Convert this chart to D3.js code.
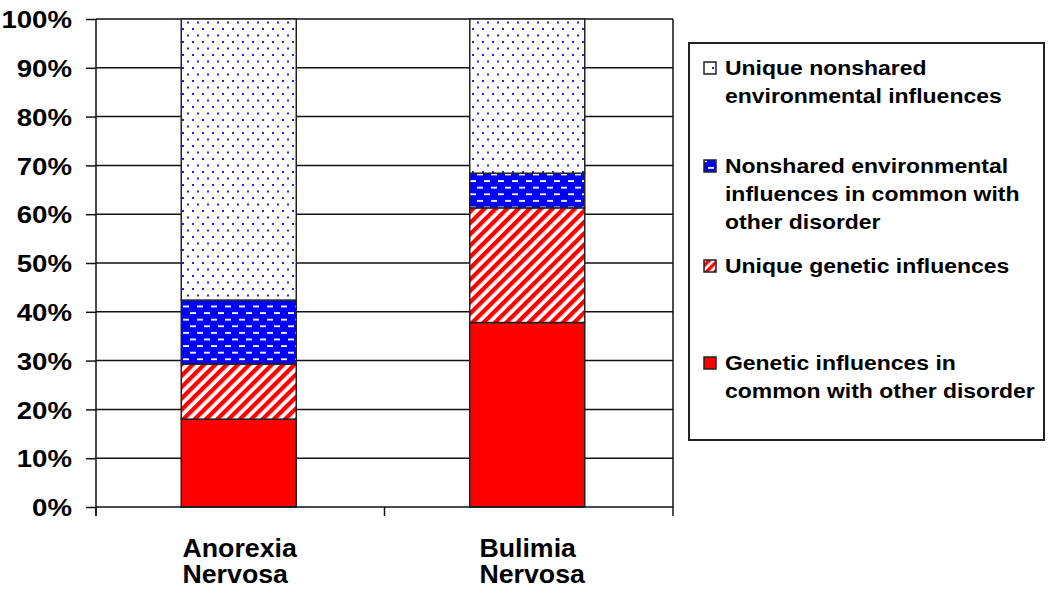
<!DOCTYPE html>
<html><head><meta charset="utf-8">
<script src="https://cdn.jsdelivr.net/npm/d3@7"></script>
<style>body{margin:0;background:#fff}svg{display:block}text{font-family:"Liberation Sans",Arial,sans-serif;font-weight:bold;fill:#000}</style>
</head><body><svg id="c" width="1050" height="590"></svg>
<script>
(function(){
const categories = [["Anorexia","Nervosa"],["Bulimia","Nervosa"]];
const seriesNames = ["Genetic influences in common with other disorder","Unique genetic influences","Nonshared environmental influences in common with other disorder","Unique nonshared environmental influences"];
const geneticCommon = [18, 37.8];
const uniqueGenetic = [11.3, 23.5];
const nonsharedCommon = [13.1, 7.1];
const uniqueNonshared = [57.6, 31.6];
const yTicks = [0,10,20,30,40,50,60,70,80,90,100];
const legendLines = [
  ["Unique nonshared","environmental influences"],
  ["Nonshared environmental","influences in common with","other disorder"],
  ["Unique genetic influences"],
  ["Genetic influences in","common with other disorder"]
];

const svg = d3.select("#c");
svg.append("rect").attr("width",1050).attr("height",590).attr("fill","#fff");
const defs = svg.append("defs");
const pDots = defs.append("pattern").attr("id","pDots").attr("patternUnits","userSpaceOnUse").attr("width",10).attr("height",13);
pDots.append("rect").attr("width",10).attr("height",13).attr("fill","#fff");
pDots.append("rect").attr("x",2).attr("y",2).attr("width",2).attr("height",2).attr("fill","#2222ff");
pDots.append("rect").attr("x",7).attr("y",8.5).attr("width",2).attr("height",2).attr("fill","#2222ff");
const pDash = defs.append("pattern").attr("id","pDash").attr("patternUnits","userSpaceOnUse").attr("width",14).attr("height",13.2);
pDash.append("rect").attr("width",14).attr("height",13.2).attr("fill","#0000ff");
pDash.append("rect").attr("x",1).attr("y",2).attr("width",6).attr("height",1.8).attr("fill","#fff");
pDash.append("rect").attr("x",8).attr("y",8.6).attr("width",6).attr("height",1.8).attr("fill","#fff");
const pDiag = defs.append("pattern").attr("id","pDiag").attr("patternUnits","userSpaceOnUse").attr("width",8).attr("height",8).attr("patternTransform","rotate(45)");
pDiag.append("rect").attr("width",8).attr("height",8).attr("fill","#fff");
pDiag.append("rect").attr("width",4.3).attr("height",8).attr("fill","#ff0000");
const pDiagS = defs.append("pattern").attr("id","pDiagS").attr("patternUnits","userSpaceOnUse").attr("width",6).attr("height",6).attr("patternTransform","rotate(45)");
pDiagS.append("rect").attr("width",6).attr("height",6).attr("fill","#fff");
pDiagS.append("rect").attr("width",3.4).attr("height",6).attr("fill","#ff0000");

const fills = ["#ff0000","url(#pDiag)","url(#pDash)","url(#pDots)"];
const legendFills = ["#ff0000","url(#pDiagS)","url(#pDash)","url(#pDots)"];

const L=96, R=673, T=19, B=507;
const x = d3.scaleBand().domain(categories.map((d,i)=>i)).range([L,R]).paddingInner(0).paddingOuter(0);
const y = d3.scaleLinear().domain([0,100]).range([B,T]);

svg.append("g").selectAll("line").data(yTicks.filter(t=>t>0)).join("line")
  .attr("x1",L).attr("x2",R).attr("y1",d=>y(d)).attr("y2",d=>y(d))
  .attr("stroke","#111").attr("stroke-width",1.5);
svg.append("line").attr("x1",R).attr("x2",R).attr("y1",T).attr("y2",B).attr("stroke","#111").attr("stroke-width",1.5);

const rows = categories.map((c,i)=>[geneticCommon[i],uniqueGenetic[i],nonsharedCommon[i],uniqueNonshared[i]]);
const stack = d3.stack().keys([0,1,2,3])(rows);
const barW = 115;
stack.forEach((layer,k)=>{
  svg.append("g").selectAll("rect").data(layer).join("rect")
    .attr("x",(d,i)=>x(i)+x.bandwidth()/2-barW/2-1.5)
    .attr("width",barW)
    .attr("y",d=>y(d[1])).attr("height",d=>y(d[0])-y(d[1]))
    .attr("fill",fills[k]).attr("stroke","#222").attr("stroke-width",1.5);
});

const yAxis = svg.append("g").attr("transform",`translate(${L},0)`)
  .call(d3.axisLeft(y).tickValues(yTicks).tickSize(10).tickFormat(d=>d+"%"));
yAxis.select(".domain").attr("stroke","#111").attr("stroke-width",1.5).attr("d",`M0,${B+9}V${T}`);
yAxis.selectAll(".tick line").attr("stroke","#111").attr("stroke-width",1.5);
yAxis.selectAll(".tick text").remove();
yAxis.selectAll(".tick").append("text").attr("text-anchor","end")
  .attr("transform","translate(-24,0) scale(1.15,1)").attr("dy","0.36em")
  .style("font-size","24px").text(d=>d+"%");

const xAxis = svg.append("g").attr("transform",`translate(0,${B})`);
xAxis.append("line").attr("x1",L).attr("x2",R).attr("stroke","#111").attr("stroke-width",1.5);
xAxis.selectAll("line.t").data([L,(L+R)/2,R]).join("line").attr("class","t")
  .attr("x1",d=>d).attr("x2",d=>d).attr("y1",0).attr("y2",9).attr("stroke","#111").attr("stroke-width",1.5);

categories.forEach((lines,i)=>{
  const g = svg.append("g");
  const t = g.append("text").style("font-size","25px");
  lines.forEach((ln,j)=>t.append("tspan").attr("x",0).attr("y",j*26).text(ln));
  const w = g.node().getBBox().width*1.07;
  g.attr("transform",`translate(${x(i)+x.bandwidth()/2-w/2+4*i},557) scale(1.07,1)`);
});

svg.append("rect").attr("x",689).attr("y",43).attr("width",355).attr("height",397)
  .attr("fill","#fff").attr("stroke","#222").attr("stroke-width",2);
const itemY = [68,166,266,363];
const legOrder = [3,2,1,0];
legOrder.forEach((k,j)=>{
  svg.append("rect").attr("x",704).attr("y",itemY[j]-6).attr("width",12).attr("height",12)
    .attr("fill",legendFills[k]).attr("stroke","#222").attr("stroke-width",1.5);
  const g = svg.append("g").attr("transform",`translate(725,${itemY[j]}) scale(1.12,1)`);
  const t = g.append("text").style("font-size","20.5px");
  legendLines[j].forEach((ln,m)=>t.append("tspan").attr("x",0).attr("y",m*27.7).attr("dy","0.36em").text(ln));
});
})();
</script></body></html>
